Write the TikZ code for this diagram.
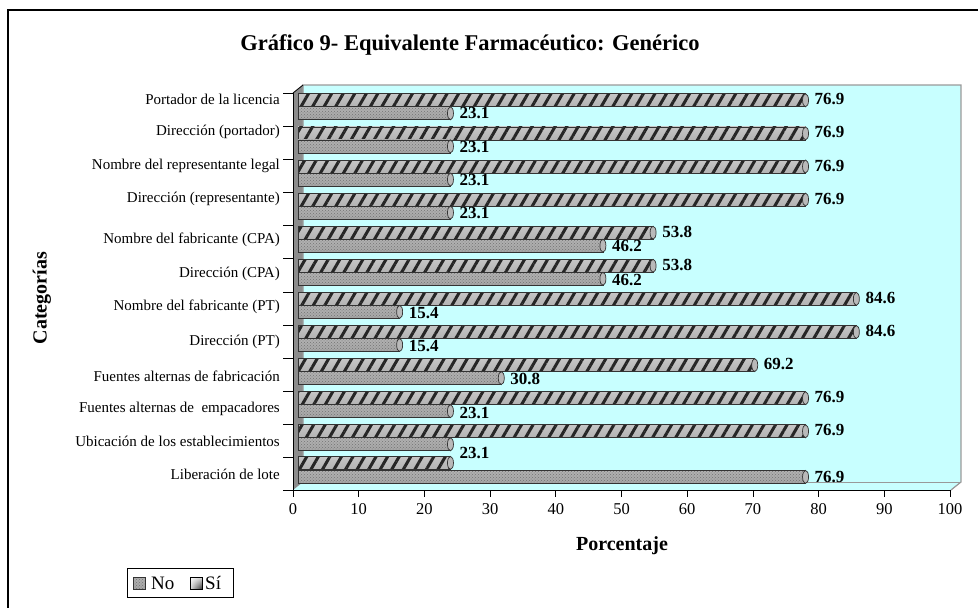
\documentclass[tikz,border=0pt]{standalone}
\usepackage{fontspec}
\setmainfont{Liberation Serif}
\usetikzlibrary{patterns,patterns.meta,shadings}
\definecolor{muro}{RGB}{200,255,255}
% one bar: kind (si/no), top y, value
\newcommand\barra[3]{%
  \fill[fill#1] (298,#2) rectangle ++(6.6*#3,13);
  \fill[pat#1] (298,#2) rectangle ++(6.6*#3,13);
  \draw[borde] (298,#2) rectangle ++(6.6*#3,13);
  \draw[borde,fill=gray!55] (298+6.6*#3,#2+6.5) ellipse [x radius=3,y radius=6.5];
}
\begin{document}
\begin{tikzpicture}[x=1pt,y=-1pt,
	every node/.style={inner sep=0pt},
	catlabel/.style={anchor=east,font=\fontsize{15}{17}\selectfont},
	valor/.style={anchor=west,font=\fontsize{17}{19}\selectfont\bfseries},
	ejelabel/.style={anchor=north,font=\fontsize{16.5}{18}\selectfont},
	ejetitulo/.style={font=\fontsize{20}{22}\selectfont\bfseries},
	leyenda/.style={anchor=west,font=\fontsize{19}{21}\selectfont},
	eje/.style={black,line width=0.8},
	borde/.style={black!80,line width=0.7},
	fillsi/.style={top color=gray!45,middle color=white,bottom color=gray!60},
	fillno/.style={top color=gray!60,middle color=gray!35,bottom color=gray!70},
	patsi/.style={pattern={Lines[angle=60,distance=10pt,line width=3pt]},pattern color=gray!30!black},
	patno/.style={pattern=crosshatch dots,pattern color=black!55}]
	\useasboundingbox (0,0) rectangle (978,608);
	% frame
	\draw[line width=2] (8,608) -- (8,10) -- (978,10);
	\node[font=\fontsize{22.5}{25}\selectfont\bfseries] (titulo) at (470,45) {Gráfico 9- Equivalente Farmacéutico: Genérico};
	% walls and floor
	\fill[muro] (303,85) rectangle (961,482);
	\fill[muro] (293,490) -- (303,482) -- (961,482) -- (951,490) -- cycle;
	\fill[gray!90] (293,93) -- (303,85) -- (303,482) -- (293,490) -- cycle;
	\draw[gray!80,line width=1.2] (303,482) -- (303,85) -- (961,85) -- (961,482) -- (951,490);
	\draw[gray!80,line width=0.8] (303,482) -- (961,482);
	\draw[eje] (293,93) -- (303,85);
	\draw[eje] (293,93) -- (293,490) -- (951,490);
	% category ticks
	\foreach \k in {0,...,12}
		\draw[eje] (283,93.3+33.1*\k) -- (293,93.3+33.1*\k);
	% x axis
	\foreach \v in {0,10,...,100} {
		\draw[eje] (293+6.57*\v,490) -- ++(0,7);
		\node[ejelabel] (t\v) at (293+6.57*\v,503) {\v};
	}
	% bars
	\foreach \vs/\vn/\lab/\ly [count=\k from 0, evaluate=\k as \t using 93.3+33.1*\k] in {
		76.9/23.1/Portador de la licencia/99,
		76.9/23.1/Dirección (portador)/132,
		76.9/23.1/Nombre del representante legal/166,
		76.9/23.1/Dirección (representante)/199,
		53.8/46.2/Nombre del fabricante (CPA)/240,
		53.8/46.2/Dirección (CPA)/274,
		84.6/15.4/Nombre del fabricante (PT)/307,
		84.6/15.4/Dirección (PT)/342,
		69.2/30.8/Fuentes alternas de fabricación/376,
		76.9/23.1/Fuentes alternas de~ empacadores/409,
		76.9/23.1/Ubicación de los establecimientos/441} {
		\node[catlabel] (cat\k) at (280,\ly) {\lab};
		\barra{si}{\t+0.5}{\vs}
		\barra{no}{\t+13.5}{\vn}
		\node[valor] (si\k) at (298+6.6*\vs+9,\t+6) {\vs};
	}
	\foreach \vn/\ly [count=\k from 0, evaluate=\k as \t using 93.3+33.1*\k] in {
		23.1/113,23.1/147,23.1/180,23.1/213,46.2/246,46.2/280,15.4/313,15.4/346,30.8/379,23.1/413,23.1/453}
		\node[valor] (no\k) at (298+6.6*\vn+9,\ly) {\vn};
	% last row, Si on top
	\node[catlabel] (cat11) at (280,474) {Liberación de lote};
	\barra{si}{456.4}{23.1}
	\barra{no}{470.4}{76.9}
	\node[valor] (no11) at (298+6.6*76.9+9,477) {76.9};
	% axis titles
	\node[ejetitulo,rotate=90] (ejey) at (42,298) {Categorías};
	\node[ejetitulo] (ejex) at (622,546) {Porcentaje};
	% legend
	\node[draw,line width=0.8,minimum width=106,minimum height=29,anchor=north west] (caja) at (127,568) {};
	\fill[fillno] (133,577) rectangle (145,589);
	\fill[patno] (133,577) rectangle (145,589);
	\draw[borde] (133,577) rectangle (145,589);
	\node[leyenda] (leyno) at (151,583) {No};
	\shade[upper left=white,lower right=black!80,upper right=gray!30,lower left=gray!30] (190,577) rectangle (202,589);
	\draw[black,line width=1] (190,577) rectangle (202,589);
	\node[leyenda] (leysi) at (205,583) {Sí};
\end{tikzpicture}
\end{document}
